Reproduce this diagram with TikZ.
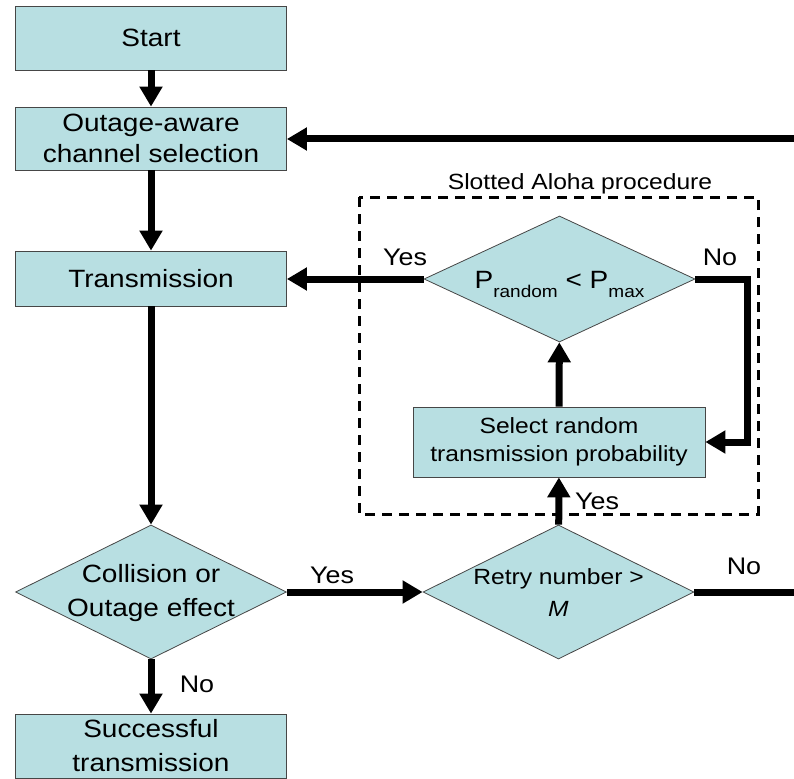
\documentclass[tikz,border=0pt]{standalone}
\usepackage{fontspec}
\setmainfont{Liberation Sans}[FakeStretch=1.12]
\usetikzlibrary{arrows.meta,shapes.geometric}
\definecolor{boxfill}{RGB}{184,223,226}
\definecolor{boxline}{RGB}{70,70,70}
\begin{document}
\begin{tikzpicture}[x=1pt,y=-1pt,
  proc/.style={draw=boxline, line width=0.8pt, fill=boxfill, minimum width=271pt, inner sep=0pt, align=center, font=\fontsize{25}{31}\selectfont},
  dec/.style={diamond, draw=boxline, line width=0.8pt, fill=boxfill, minimum width=271pt, minimum height=134pt, inner sep=0pt},
  dtext/.style={align=center, inner sep=0pt, font=\fontsize{25}{34}\selectfont},
  flow/.style={line width=7pt, -{Triangle[length=20pt,width=22pt]}},
  plain/.style={line width=7pt},
  lbl/.style={font=\fontsize{24}{24}\selectfont, inner sep=0pt}
]
\useasboundingbox (0,0) rectangle (794,778);
% dashed frame
\draw[line width=3pt, dash pattern=on 10pt off 7pt] (359,197) rectangle (758,514);
\node[font=\fontsize{22}{22}\selectfont, inner sep=0pt] (aloha) at (580,184) {Slotted Aloha procedure};
% nodes
\node[proc, minimum height=64pt] (start) at (151,38) {Start};
\node[proc, minimum height=63pt] (sel) at (151,138.5) {Outage-aware\\channel selection};
\node[proc, minimum height=55pt] (tx) at (151,278.5) {Transmission};
\node[dec] (coll) at (151,592) {};
\node[dtext] (colltxt) at (151,593) {Collision or\\Outage effect};
\node[proc, minimum height=64pt, font=\fontsize{25}{34}\selectfont] (succ) at (151,746) {Successful\\transmission};
\node[dec] (retry) at (558.5,592) {};
\node[dtext, font=\fontsize{22}{32}\selectfont] (retrytxt) at (558.5,593) {Retry number >\\\textit{M}};
\node[proc, minimum width=292pt, minimum height=70pt, font=\fontsize{22}{28}\selectfont] (rand) at (559,442) {Select random\\transmission probability};
\node[dec, minimum height=126pt] (pcmp) at (559.5,279) {};
\node[anchor=base, inner sep=0pt, font=\fontsize{25}{25}\selectfont] (pcmptxt) at (559.5,288)
  {P\raisebox{-9pt}{\fontsize{17}{17}\selectfont random} < P\raisebox{-9pt}{\fontsize{17}{17}\selectfont max}};
% coordinates
\coordinate (rtop) at (794,139);
\coordinate (rbot) at (794,592);
\coordinate (nx) at (747,442);
% connectors
\draw[flow] (start) -- (sel);
\draw[flow] (sel) -- (tx);
\draw[flow] (rtop) -- (rtop -| sel.east);
\draw[flow] (pcmp.west) -- (pcmp.west -| tx.east);
\draw[flow] (pcmp.east) -| (nx) -- (rand.east);
\draw[flow] (rand) -- (pcmp);
\draw[flow] (tx) -- (coll);
\draw[flow] (coll) -- (retry);
\draw[flow] (coll) -- (succ);
\draw[flow] (retry) -- (rand);
\draw[plain] (retry.east) -- (rbot);
% labels
\node[lbl] (l1) at (405,257) {Yes};
\node[lbl] (l2) at (720,257) {No};
\node[lbl] (l3) at (597,501) {Yes};
\node[lbl] (l4) at (332,575) {Yes};
\node[lbl] (l5) at (744,566) {No};
\node[lbl] (l6) at (197,684) {No};
\end{tikzpicture}
\end{document}
